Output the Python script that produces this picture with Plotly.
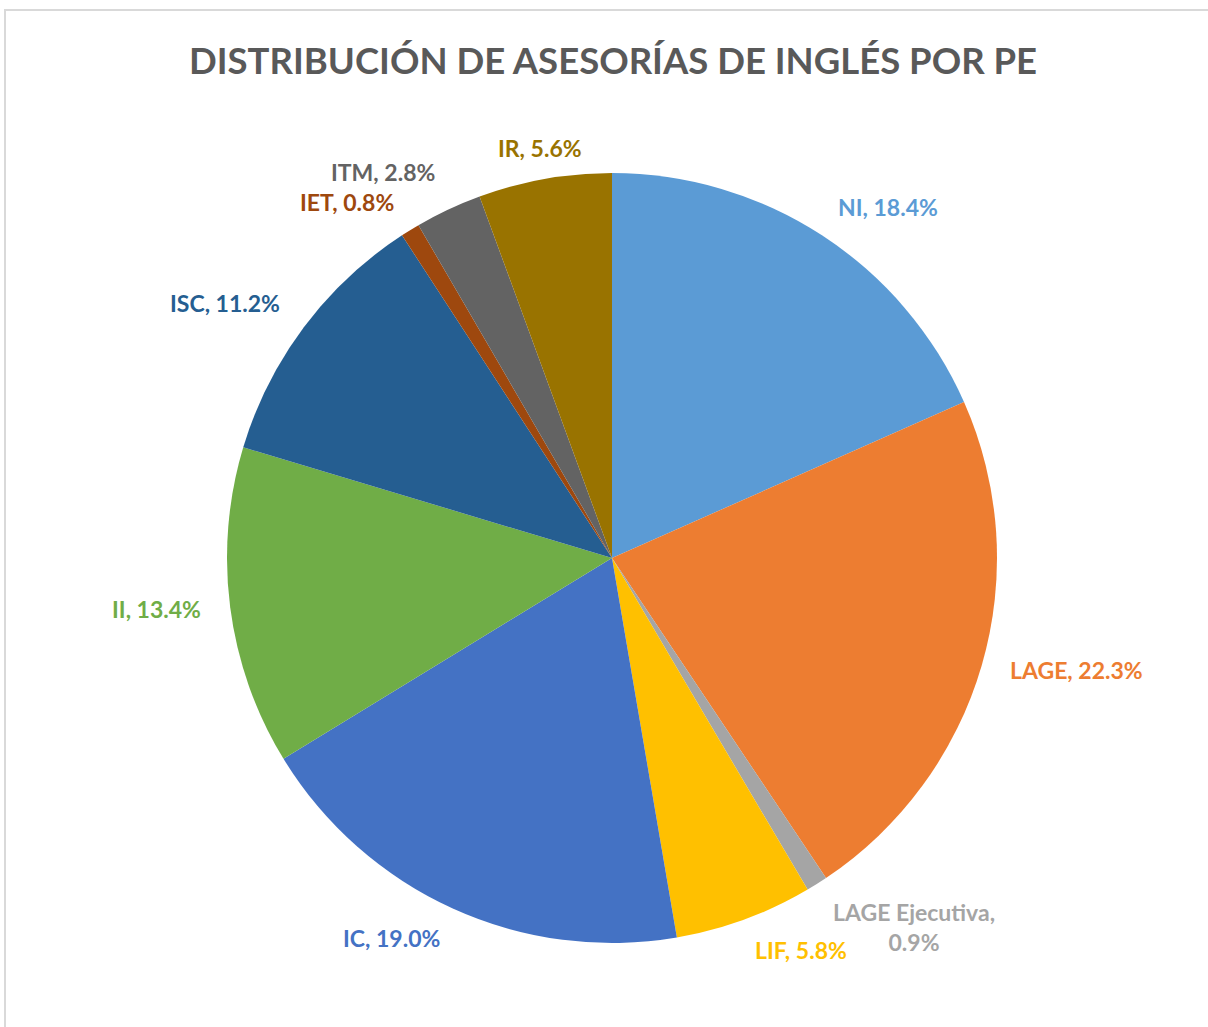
import math
import plotly.graph_objects as go

# Data
categories = ["NI", "LAGE", "LAGE Ejecutiva", "LIF", "IC", "II", "ISC", "IET", "ITM", "IR"]
values = [18.4, 22.3, 0.9, 5.8, 19.0, 13.4, 11.2, 0.8, 2.8, 5.6]
colors = ["#5B9BD5", "#ED7D31", "#A5A5A5", "#FFC000", "#4472C4",
          "#70AD47", "#255E91", "#9E480E", "#636363", "#997300"]
label_texts = ["NI, 18.4%", "LAGE, 22.3%", "LAGE Ejecutiva,<br>0.9%", "LIF, 5.8%",
               "IC, 19.0%", "II, 13.4%", "ISC, 11.2%", "IET, 0.8%", "ITM, 2.8%", "IR, 5.6%"]
title_text = "DISTRIBUCIÓN DE ASESORÍAS DE INGLÉS POR PE"

W, H = 1208, 1027
cx, cy, R = 612, 558, 385  # pie centre and radius in pixels
FONT = "Lato"
LABEL_SIZE = 23

fig = go.Figure()
fig.add_trace(go.Pie(
    labels=categories, values=values, sort=False, direction="clockwise", rotation=0,
    marker=dict(colors=colors, line=dict(width=0)),
    textinfo="none", hoverinfo="label+percent", showlegend=False,
    domain=dict(x=[(cx - R) / W, (cx + R) / W], y=[1 - (cy + R) / H, 1 - (cy - R) / H]),
))

# Labels placed outside each slice, at the slice's mid-angle
total = sum(values)
cum = 0.0
gap_x, gap_y = 28, 16
box_h = LABEL_SIZE * 1.3
prev = None  # (side, top, bottom) of the previous label on the upper-left
for cat, v, col, txt in zip(categories, values, colors, label_texts):
    mid = (cum + v / 2) / total * 2 * math.pi
    cum += v
    s, c = math.sin(mid), math.cos(mid)
    px = cx + (R + gap_x) * s
    py = cy - (R + gap_y) * c
    xa = "left" if s > 0.3 else ("right" if s < -0.3 else "center")
    ya = "bottom" if c > 0.3 else ("top" if c < -0.3 else "middle")
    # simple collision avoidance for crowded small slices on the upper-left
    if ya == "bottom" and xa == "right":
        top, bottom = py - box_h, py
        if prev is not None and bottom > prev[0]:
            py = prev[0]
            top, bottom = py - box_h, py
        prev = (top, bottom)
    fig.add_annotation(
        x=px / W, y=1 - py / H, xref="paper", yref="paper",
        text="<b>" + txt + "</b>", showarrow=False, xanchor=xa, yanchor=ya,
        align="center", borderpad=0, font=dict(family=FONT, size=LABEL_SIZE, color=col),
    )

fig.add_annotation(
    x=613 / W, y=1 - 60 / H, xref="paper", yref="paper",
    text="<b>" + title_text + "</b>", showarrow=False, xanchor="center", yanchor="middle",
    font=dict(family=FONT, size=36.5, color="#595959"),
)

# Chart frame
fig.add_shape(type="rect", xref="paper", yref="paper",
              x0=5 / W, x1=1.05, y0=-0.05, y1=1 - 10 / H,
              line=dict(color="#D9D9D9", width=2), fillcolor="rgba(0,0,0,0)")

fig.update_layout(
    width=W, height=H, margin=dict(l=0, r=0, t=0, b=0),
    paper_bgcolor="white", plot_bgcolor="white",
)

fig.write_html("out.html", config={"displayModeBar": False},
               post_script="document.body.style.margin='0';document.body.style.overflow='hidden';")
